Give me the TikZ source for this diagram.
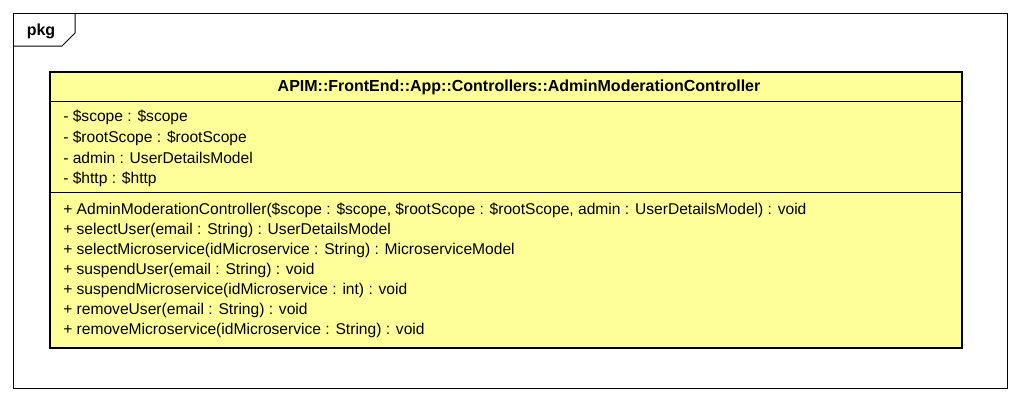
\documentclass[tikz,border=0pt]{standalone}
\usepackage{fontspec}
\setmainfont{Liberation Sans}
\usetikzlibrary{positioning}
\definecolor{classyellow}{HTML}{FFFF99}
\tikzset{
    member/.style={anchor=west, inner sep=0pt, font=\fontsize{11.7}{13}\selectfont},
    classname/.style={inner sep=0pt, font=\bfseries\fontsize{12}{14}\selectfont}
}
\begin{document}
\begin{tikzpicture}[x=0.75pt, y=-0.75pt]
            \useasboundingbox (0, 0) rectangle (1020, 401);

            % package frame
            \draw[line width=0.75pt] (13, 13) rectangle (1007, 388);
            \draw[line width=0.75pt] (13, 46) -- (62, 46) -- (75, 33) -- (75, 13);
            \node[classname] (pkg) at (41, 31) {pkg};

            % class box
            \draw[line width=2.2pt, fill=classyellow] (50, 72) rectangle (962, 348);
            \draw[line width=0.75pt] (50, 101) -- (962, 101);
            \draw[line width=0.75pt] (50, 192) -- (962, 192);

            \node[classname] (name) at (519, 87) {APIM::FrontEnd::App::Controllers::AdminModerationController};

            \node[member] (scope) at (63, 117) {- \$scope : \$scope};
            \node[member] (root) at (63, 138) {- \$rootScope : \$rootScope};
            \node[member] (admin) at (63, 158) {- admin : UserDetailsModel};
            \node[member] (http) at (63, 179) {- \$http : \$http};

            \node[member] (ctor) at (63, 210) {+ AdminModerationController(\$scope : \$scope, \$rootScope : \$rootScope, admin : UserDetailsModel) : void};
            \node[member] (selu) at (63, 230) {+ selectUser(email : String) : UserDetailsModel};
            \node[member] (selm) at (63, 250) {+ selectMicroservice(idMicroservice : String) : MicroserviceModel};
            \node[member] (susu) at (63, 270) {+ suspendUser(email : String) : void};
            \node[member] (susm) at (63, 290) {+ suspendMicroservice(idMicroservice : int) : void};
            \node[member] (remu) at (63, 310) {+ removeUser(email : String) : void};
            \node[member] (remm) at (63, 330) {+ removeMicroservice(idMicroservice : String) : void};
        \end{tikzpicture}
\end{document}
